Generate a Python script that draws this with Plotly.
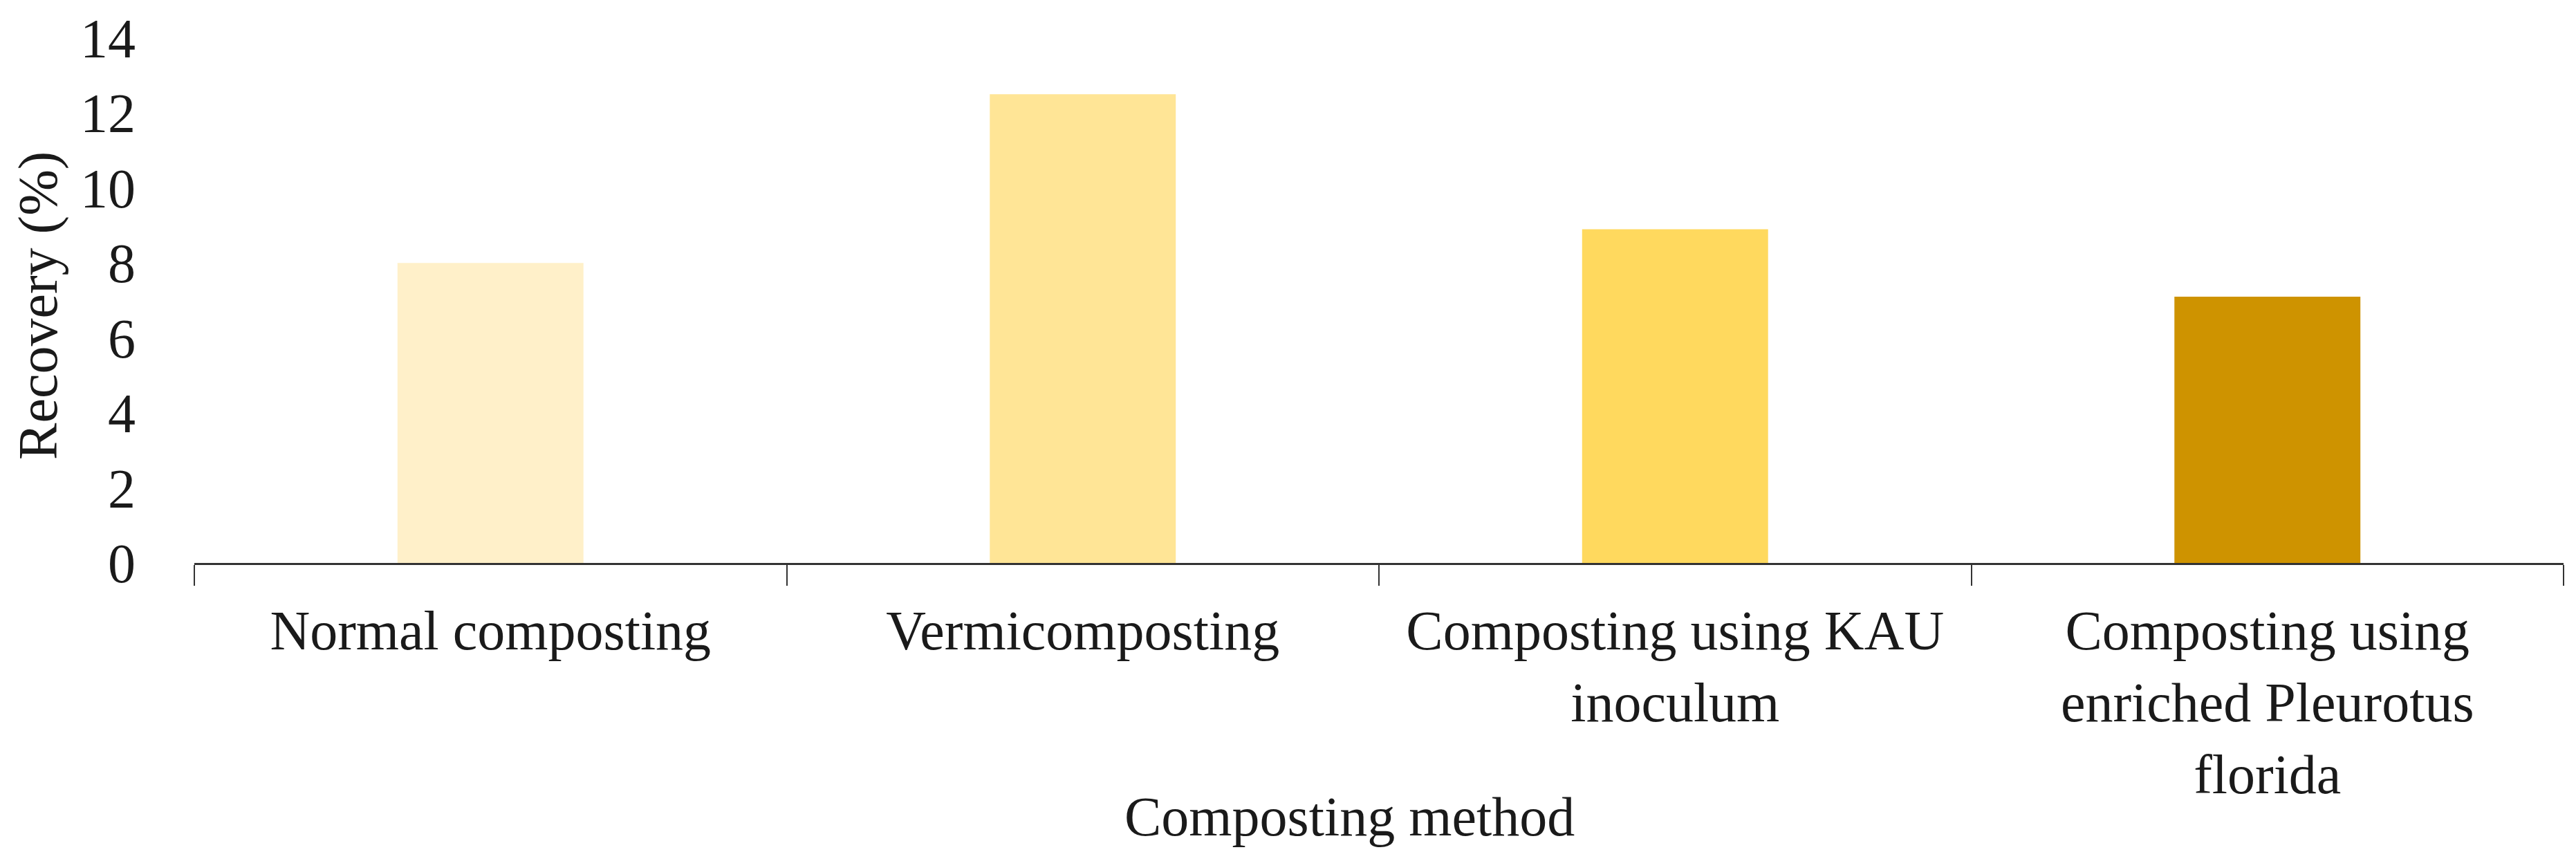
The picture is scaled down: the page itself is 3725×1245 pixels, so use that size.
import plotly.graph_objects as go

# data
methods = ["Normal composting", "Vermicomposting",
           "Composting using KAU inoculum",
           "Composting using enriched Pleurotus florida"]
tick_text = ["Normal composting", "Vermicomposting",
             "Composting using KAU<br>inoculum",
             "Composting using<br>enriched Pleurotus<br>florida"]
recovery = [8.0, 12.5, 8.9, 7.1]
bar_colors = ["#FFF0C9", "#FFE596", "#FFD95E", "#CE9300"]
y_ticks = [0, 2, 4, 6, 8, 10, 12, 14]

font_name = "Liberation Serif"
fsize = 80

fig = go.Figure(go.Bar(
    x=methods,
    y=recovery,
    marker=dict(color=bar_colors, line_width=0),
    showlegend=False,
))

fig.update_layout(
    template="none",
    width=3725, height=1245,
    autosize=False,
    margin=dict(l=273, r=26, t=47, b=439),
    paper_bgcolor="white",
    plot_bgcolor="white",
    bargap=0.686,
    font=dict(family=font_name, size=fsize, color="#1a1a1a"),
)

fig.update_xaxes(
    type="category",
    automargin=False,
    range=[-0.5, 3.5],
    tickvals=methods,
    ticktext=tick_text,
    tickson="boundaries",
    ticks="outside",
    ticklen=30,
    tickwidth=2,
    tickcolor="#333333",
    showline=True,
    linewidth=3,
    linecolor="#333333",
    showgrid=False,
    zeroline=False,
    ticklabelstandoff=26,
    tickfont=dict(family=font_name, size=fsize, color="#1a1a1a"),
)

fig.update_yaxes(
    automargin=False,
    range=[0, 14],
    tickvals=y_ticks,
    ticks="",
    showline=False,
    showgrid=False,
    zeroline=False,
    ticklabelstandoff=84,
    tickfont=dict(family=font_name, size=fsize, color="#1a1a1a"),
)

# axis titles as annotations so they sit where the original has them
fig.add_annotation(
    text="Recovery (%)", textangle=-90,
    xref="paper", yref="paper", x=-0.066, y=0.49,
    xanchor="center", yanchor="middle", showarrow=False,
    font=dict(family=font_name, size=fsize, color="#1a1a1a"),
)
fig.add_annotation(
    text="Composting method",
    xref="paper", yref="paper", x=0.4875, y=-0.4835,
    xanchor="center", yanchor="middle", showarrow=False,
    font=dict(family=font_name, size=fsize, color="#1a1a1a"),
)

fig.write_html("out.html")
